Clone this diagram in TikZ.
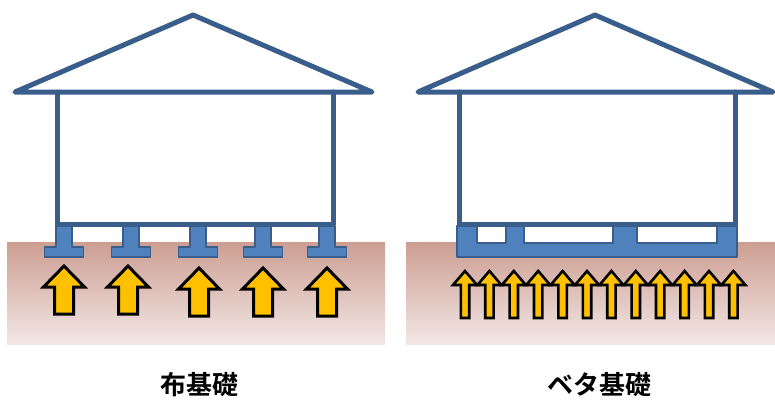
\documentclass[tikz,border=0pt]{standalone}
\usepackage{fontspec}
\newfontfamily\jpfont{Noto Sans CJK JP Bold}
\definecolor{hauslinie}{RGB}{58,94,140}
\definecolor{fundament}{RGB}{79,129,189}
\definecolor{erdeoben}{RGB}{204,158,146}
\definecolor{erdeunten}{RGB}{242,231,229}
\definecolor{druck}{RGB}{255,192,0}
\tikzset{
  haus/.style={draw=hauslinie,line width=5pt,line join=round,line cap=round,fill=white},
  fuss/.style={draw=hauslinie,line width=1.5pt,fill=fundament,line join=round},
  erde/.style={top color=erdeoben,bottom color=erdeunten,draw=none},
  pfeil/.style={draw=black,line width=3pt,fill=druck,line join=miter},
  titel/.style={font=\jpfont\fontsize{26}{30}\selectfont}
}
\begin{document}
\begin{tikzpicture}[x=1pt,y=-1pt]
  \useasboundingbox (0,0) rectangle (775,400);
  % 地盤（左・右）
  \fill[erde] (7,242) rectangle (385,344);
  \fill[erde] (406,242) rectangle (775,344);
  % 布基礎の家
  \draw[haus] (15,92) -- (193,15) -- (372,92) -- cycle;
  \foreach \x in {64,131,198,263,327}
    \draw[fuss] (\x-8,226) -- (\x+8,226) -- (\x+8,247) -- (\x+19.5,247)
      -- (\x+19.5,257) -- (\x-19.5,257) -- (\x-19.5,247) -- (\x-8,247) -- cycle;
  \draw[haus,fill=none] (57,92) -- (57,224) -- (333,224) -- (333,92);
  % 地反力（太い矢印）
  \foreach \x/\t in {64/266,128/266,199/268,263/268,327/268}
    \draw[pfeil] (\x,\t) -- (\x+20.5,\t+21) -- (\x+9.5,\t+21) -- (\x+9.5,\t+48)
      -- (\x-9.5,\t+48) -- (\x-9.5,\t+21) -- (\x-20.5,\t+21) -- cycle;
  % ベタ基礎の家
  \draw[haus] (418,92) -- (595,15) -- (773,92) -- cycle;
  \draw[fuss,even odd rule] (457,226) rectangle (737,257)
    (477,226) rectangle (506,243) (524,226) rectangle (613,243)
    (637,226) rectangle (717,243);
  \draw[haus,fill=none] (459,92) -- (459,224) -- (735,224) -- (735,92);
  % 地反力（細い矢印）
  \foreach \i in {0,...,11}
    \draw[pfeil,line width=2.6pt] (465+24.4*\i,271) -- (477+24.4*\i,285)
      -- (469.2+24.4*\i,285) -- (469.2+24.4*\i,318) -- (460.8+24.4*\i,318)
      -- (460.8+24.4*\i,285) -- (453+24.4*\i,285) -- cycle;
  % 見出し
  \node[titel] (nuno) at (199,385) {布基礎};
  \node[titel] (beta) at (599,385) {ベタ基礎};
\end{tikzpicture}
\end{document}
